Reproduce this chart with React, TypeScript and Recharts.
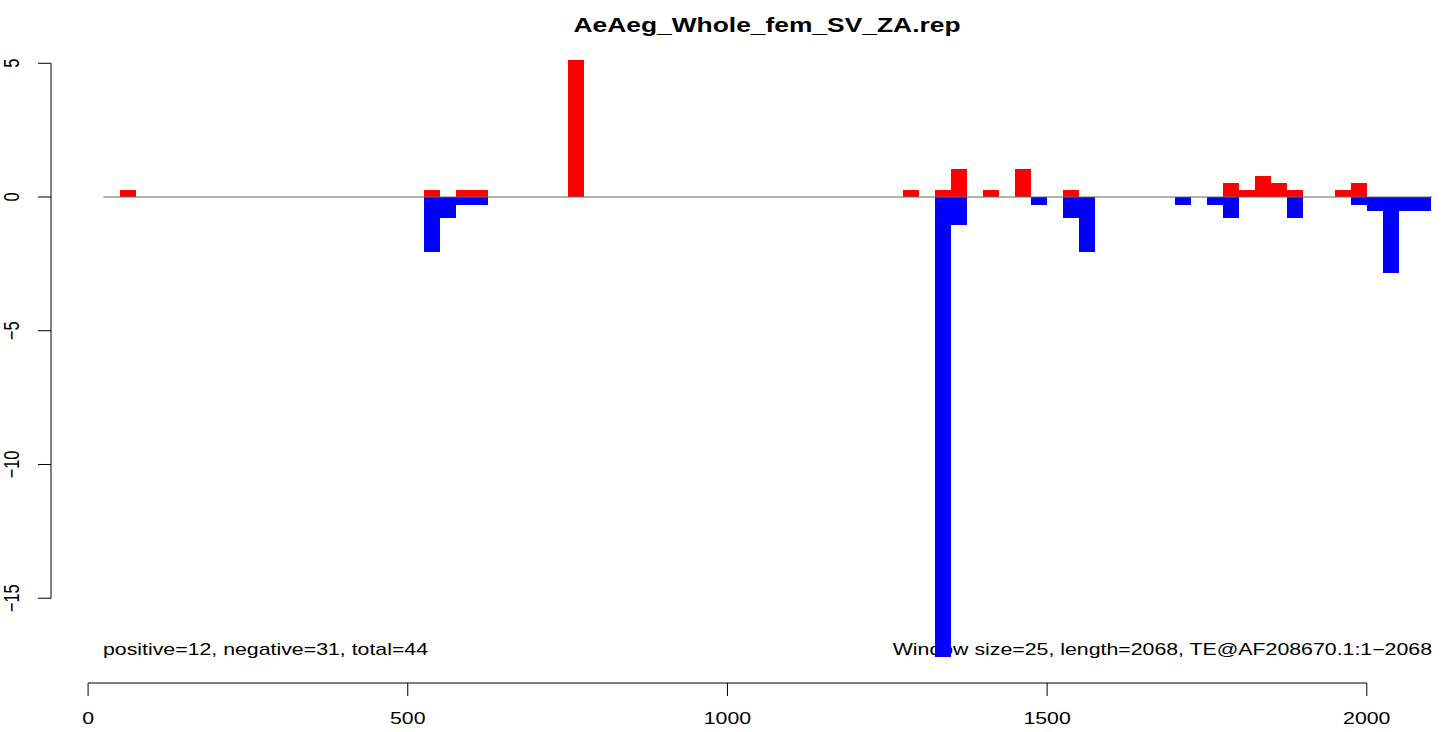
import React from 'react';
import { ComposedChart, Bar, XAxis, YAxis, ReferenceLine, Customized } from 'recharts';

const WINDOW = 25;
const binStarts = [50, 525, 550, 575, 600, 750, 1275, 1325, 1350, 1400, 1450, 1475, 1525, 1550, 1700, 1750, 1775, 1800, 1825, 1850, 1875, 1950, 1975, 2000, 2025, 2050, 2075];
const positiveValues = [0.26, 0.26, 0, 0.26, 0.26, 5.14, 0.26, 0.26, 1.03, 0.26, 1.03, 0, 0.26, 0, 0, 0, 0.51, 0.26, 0.77, 0.51, 0.26, 0.26, 0.51, 0, 0, 0, 0];
const negativeValues = [0, -2.06, -0.77, -0.28, -0.28, 0, 0, -17.2, -1.03, 0, 0, -0.28, -0.77, -2.06, -0.28, -0.28, -0.77, 0, 0, 0, -0.77, 0, -0.28, -0.51, -2.84, -0.51, -0.51];
const xTicks = [0, 500, 1000, 1500, 2000];
const yTicks = [-15, -10, -5, 0, 5];
const X_DOMAIN: [number, number] = [-58, 2102];
const Y_DOMAIN: [number, number] = [-18.17, 6.02];

const TITLE = 'AeAeg_Whole_fem_SV_ZA.rep';
const LEFT_NOTE = 'positive=12, negative=31, total=44';
const RIGHT_NOTE = 'Window size=25, length=2068, TE@AF208670.1:1\u22122068';

const data = binStarts.map((s, i) => ({
  mid: s + WINDOW / 2,
  pos: positiveValues[i],
  neg: negativeValues[i],
}));

const FONT = '"Liberation Sans", Arial, Helvetica, sans-serif';
const SX = 1.3;
const FS = 16.4;
const BAR_PX = 16;

const WindowBar = (props: any) => {
  const { x, y, width, height, fill } = props;
  if (x == null || y == null || !height) return null;
  const cx = x + width / 2;
  const top = Math.min(y, y + height);
  const h = Math.abs(height);
  return <rect x={cx - BAR_PX / 2} y={top} width={BAR_PX} height={h} fill={fill} shapeRendering="crispEdges" />;
};

const XTick = (props: any) => {
  const { x, y, payload } = props;
  return (
    <text
      transform={`translate(${x},${y + 26}) scale(${SX},1)`}
      textAnchor="middle"
      fontSize={FS}
      fontFamily={FONT}
      fill="#000"
    >
      {payload.value}
    </text>
  );
};

const YTick = (props: any) => {
  const { y, payload } = props;
  const v = payload.value;
  const label = v < 0 ? '\u2212' + Math.abs(v) : String(v);
  return (
    <text
      transform={`translate(19,${y}) scale(${SX},1) rotate(-90)`}
      textAnchor="middle"
      fontSize={FS}
      fontFamily={FONT}
      fill="#000"
    >
      {label}
    </text>
  );
};

const Annotations = () => (
  <g>
    <text
      transform={`translate(767,32) scale(1.32,1)`}
      textAnchor="middle"
      fontSize={20}
      fontWeight="bold"
      fontFamily={FONT}
      fill="#000"
    >
      {TITLE}
    </text>
    <text
      transform={`translate(103,655) scale(${SX},1)`}
      textAnchor="start"
      fontSize={FS}
      fontFamily={FONT}
      fill="#000"
    >
      {LEFT_NOTE}
    </text>
    <text
      transform={`translate(1432,655) scale(${SX},1)`}
      textAnchor="end"
      fontSize={FS}
      fontFamily={FONT}
      fill="#000"
    >
      {RIGHT_NOTE}
    </text>
  </g>
);

export default function App() {
  return (
    <div style={{ position: 'absolute', left: 0, top: 0, width: 1449, height: 732, background: '#fff' }}>
      <ComposedChart
        width={1449}
        height={732}
        data={data}
        margin={{ top: 36, right: 17, bottom: 0, left: 0 }}
        stackOffset="sign"
        barGap={0}
        barCategoryGap={0}
      >
        <XAxis
          dataKey="mid"
          type="number"
          domain={X_DOMAIN}
          ticks={xTicks}
          interval={0}
          axisLine={false}
          tickSize={13}
          tickLine={{ stroke: '#000', strokeWidth: 1 }}
          tick={<XTick />}
          height={49}
          allowDataOverflow
        />
        <YAxis
          type="number"
          domain={Y_DOMAIN}
          ticks={yTicks}
          interval={0}
          axisLine={false}
          tickSize={13}
          tickMargin={0}
          tickLine={{ stroke: '#000', strokeWidth: 1 }}
          tick={<YTick />}
          width={51}
          allowDataOverflow
        />
        <ReferenceLine segment={[{ x: 24, y: 0 }, { x: X_DOMAIN[1], y: 0 }]} stroke="#666666" strokeWidth={1} />
        <Bar dataKey="pos" stackId="s" fill="#ff0000" barSize={16} shape={<WindowBar />} isAnimationActive={false} />
        <Bar dataKey="neg" stackId="s" fill="#0000ff" barSize={16} shape={<WindowBar />} isAnimationActive={false} />
        <ReferenceLine segment={[{ x: 0, y: Y_DOMAIN[0] }, { x: 2000, y: Y_DOMAIN[0] }]} stroke="#000" strokeWidth={1} />
        <ReferenceLine segment={[{ x: X_DOMAIN[0], y: 5 }, { x: X_DOMAIN[0], y: -15 }]} stroke="#000" strokeWidth={1} />
        <Customized component={Annotations} />
      </ComposedChart>
    </div>
  );
}
